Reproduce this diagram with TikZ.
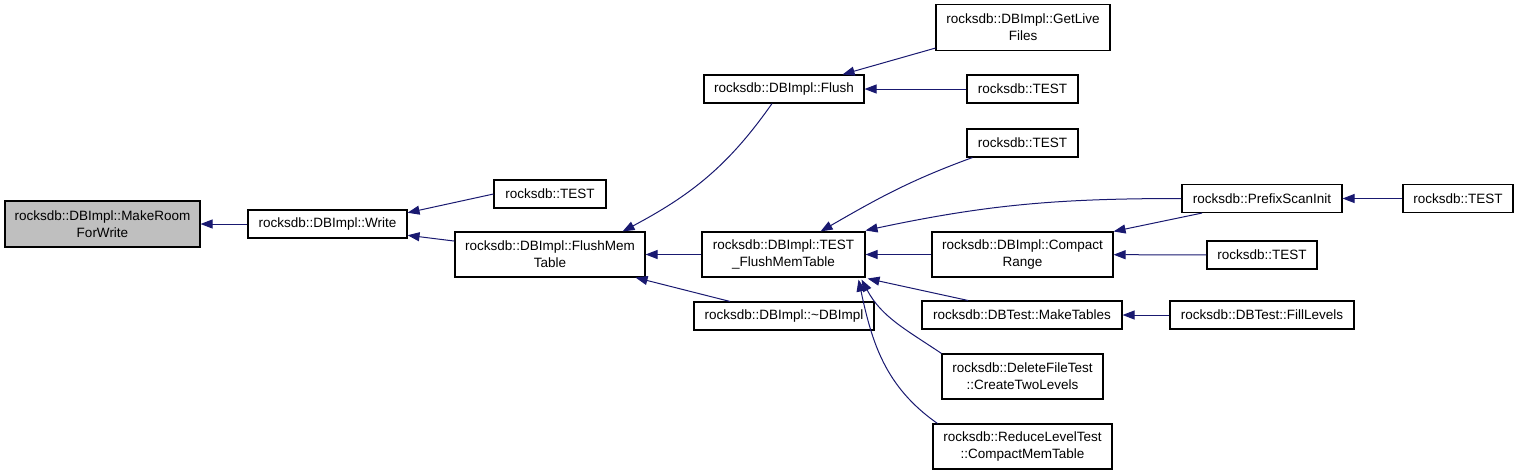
\documentclass[tikz,border=0pt]{standalone}
\usepackage{fontspec}
\setmainfont{Liberation Sans}
\usetikzlibrary{arrows.meta}
\definecolor{edgeblue}{HTML}{191970}
\definecolor{nodegray}{HTML}{BFBFBF}

\begin{document}
\begin{tikzpicture}[x=1pt,y=-1pt,
  box/.style={draw=black,line width=1.1pt,fill=white,inner sep=0pt,minimum height=28pt,
    align=center,font=\fontsize{13.5}{17}\selectfont},
  call/.style={edgeblue,line width=1pt,-{Triangle[length=12pt,width=9pt]}}]
  \useasboundingbox (0,0) rectangle (1520,475);

  % callers, left to right
  \node[box,fill=nodegray,minimum width=195pt,minimum height=46pt] (mroom) at (102.5,224) {rocksdb::DBImpl::MakeRoom\\ForWrite};
  \node[box,minimum width=159pt] (write) at (327.5,224) {rocksdb::DBImpl::Write};
  \node[box,minimum width=112pt] (testa) at (550,194) {rocksdb::TEST};
  \node[box,minimum width=190pt,minimum height=45pt] (fmt) at (550,254.5) {rocksdb::DBImpl::FlushMem\\Table};
  \node[box,minimum width=160pt] (flush) at (784,89) {rocksdb::DBImpl::Flush};
  \node[box,minimum width=163pt,minimum height=45pt] (tfmt) at (783.5,254.5) {rocksdb::DBImpl::TEST\\\_FlushMemTable};
  \node[box,minimum width=180pt] (dtor) at (784,316) {rocksdb::DBImpl::\textasciitilde DBImpl};
  \node[box,minimum width=174pt,minimum height=46pt] (glf) at (1023,27.5) {rocksdb::DBImpl::GetLive\\Files};
  \node[box,minimum width=111pt] (testb) at (1022.5,89) {rocksdb::TEST};
  \node[box,minimum width=111pt] (testc) at (1022.5,143) {rocksdb::TEST};
  \node[box,minimum width=160pt] (psi) at (1262,198.5) {rocksdb::PrefixScanInit};
  \node[box,minimum width=110pt] (testd) at (1458,198.5) {rocksdb::TEST};
  \node[box,minimum width=181pt,minimum height=45pt] (crange) at (1022.5,254.5) {rocksdb::DBImpl::Compact\\Range};
  \node[box,minimum width=110pt] (teste) at (1262,255) {rocksdb::TEST};
  \node[box,minimum width=200pt] (mtab) at (1022,315) {rocksdb::DBTest::MakeTables};
  \node[box,minimum width=184pt] (fill) at (1262,315) {rocksdb::DBTest::FillLevels};
  \node[box,minimum width=161pt,minimum height=45pt] (ctl) at (1022.5,376.5) {rocksdb::DeleteFileTest\\::CreateTwoLevels};
  \node[box,minimum width=179pt,minimum height=45pt] (cmt) at (1022.5,446.5) {rocksdb::ReduceLevelTest\\::CompactMemTable};

  % call edges
  \draw[call] (write) -- (mroom);
  \draw[call] (testa.west) -- (write.8);
  \draw[call] (fmt.172.5) -- (write.-8.6);
  \draw[call] ([xshift=-12pt]flush.south) to[out=-125,in=28] ([xshift=-23pt]fmt.north east);
  \draw[call] (tfmt) -- (fmt);
  \draw[call] ([xshift=-54pt]dtor.north) -- ([xshift=-10pt]fmt.south east);
  \draw[call] ([yshift=3pt]glf.south west) -- ([xshift=-22pt]flush.north east);
  \draw[call] (testb) -- (flush);
  \draw[call] ([xshift=6pt]testc.south west) to[out=200,in=30] ([xshift=37pt]tfmt.north);
  \draw[call] (psi.west) to[out=180,in=12] ([yshift=1pt]tfmt.north east);
  \draw[call] (crange) -- (tfmt);
  \draw[call] ([xshift=-54pt]mtab.north) -- ([xshift=2pt,yshift=-1pt]tfmt.south east);
  \draw[call] (ctl.north west) to[out=146,in=-62] ([xshift=-4pt,yshift=-2pt]tfmt.south east);
  \draw[call] ([xshift=5pt]cmt.north west) to[out=145,in=-78] ([xshift=-7pt,yshift=-2pt]tfmt.south east);
  \draw[call] (testd) -- (psi);
  \draw[call] ([xshift=-60pt]psi.south) -- (crange.north east);
  \draw[call] (teste) -- (crange);
  \draw[call] (fill) -- (mtab);
\end{tikzpicture}
\end{document}
